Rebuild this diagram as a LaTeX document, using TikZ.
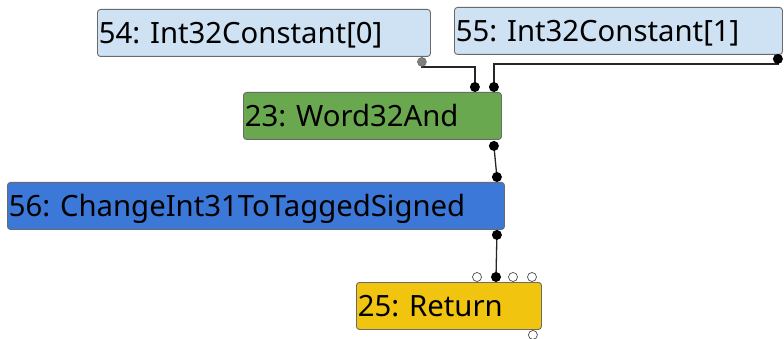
\documentclass[tikz,border=0pt]{standalone}
\usepackage{fontspec}
\setmainfont{Noto Sans}
\usetikzlibrary{positioning}
\definecolor{inBlue}{HTML}{CFE2F3}
\definecolor{machGreen}{HTML}{6AA84F}
\definecolor{simpBlue}{HTML}{3C78D8}
\definecolor{ctrlYel}{HTML}{F1C40F}
\definecolor{rimGray}{HTML}{6A6A6A}
\definecolor{portGray}{HTML}{7F7F7F}
\frenchspacing

\begin{document}
\begin{tikzpicture}[
  x=1pt, y=-1pt,
  opbox/.style={draw=rimGray, line width=0.9pt, rounded corners=3pt, anchor=north west,
    minimum width=#1pt, text width=#1pt-3pt, minimum height=47pt, inner ysep=0pt, inner xsep=1.5pt,
    text height=22pt, text depth=0pt, align=left, font=\fontsize{29.3}{34}\selectfont},
  wire/.style={draw=black!85, line width=1.3pt},
  dot/.style={circle, fill=black, inner sep=0pt, minimum size=10pt},
  greydot/.style={circle, fill=portGray, draw=black!60, line width=0.5pt, inner sep=0pt, minimum size=9pt},
  hollow/.style={circle, draw=black!70, fill=white, line width=0.7pt, inner sep=0pt, minimum size=9pt},
]
\useasboundingbox[fill=white] (0,0) rectangle (784,339);

% =========================== NODES ===========================
\node[opbox=333, fill=inBlue]    (n54) at (97,9)   {54: Int32Constant[0]};
\node[opbox=328, fill=inBlue]    (n55) at (454,7)  {55: Int32Constant[1]};
\node[opbox=258, fill=machGreen] (n23) at (243,92) {23: Word32And};
\node[opbox=497, fill=simpBlue]  (n56) at (7,182)  {56: ChangeInt31ToTaggedSigned};
\node[opbox=185, fill=ctrlYel]   (n25) at (356,282){25: Return};

% =========================== PORTS ===========================
\coordinate (o54) at ([xshift=-9pt,yshift=-5pt]n54.south east);
\coordinate (o55) at ([xshift=-5pt,yshift=-4pt]n55.south east);
\coordinate (i23a) at ([xshift=-27pt,yshift=5pt]n23.north east);
\coordinate (i23b) at ([xshift=-8pt,yshift=5pt]n23.north east);
\coordinate (o23) at ([xshift=-8pt,yshift=-6pt]n23.south east);
\coordinate (i56) at ([xshift=-8pt,yshift=5pt]n56.north east);
\coordinate (o56) at ([xshift=-8pt,yshift=-5pt]n56.south east);
\coordinate (i25a) at ([xshift=121pt,yshift=5pt]n25.north west);
\coordinate (i25b) at ([xshift=140pt,yshift=5pt]n25.north west);
\coordinate (i25c) at ([xshift=157pt,yshift=5pt]n25.north west);
\coordinate (i25d) at ([xshift=176pt,yshift=5pt]n25.north west);
\coordinate (o25) at ([xshift=-9pt,yshift=-5pt]n25.south east);

% =========================== EDGES ===========================
\draw[wire] (o54) -- ++(0,5) -| (i23a);
\draw[wire] (o55) -- ++(0,5) -| (i23b);
\draw[wire] (o23) -- (i56);
\draw[wire] (o56) -- (i25b);

% port markers
\node[greydot] at (o54) {};
\node[dot] at (o55) {};
\node[dot] at (i23a) {};
\node[dot] at (i23b) {};
\node[dot] at (o23) {};
\node[dot] at (i56) {};
\node[dot] at (o56) {};
\node[hollow] at (i25a) {};
\node[dot] at (i25b) {};
\node[hollow] at (i25c) {};
\node[hollow] at (i25d) {};
\node[hollow] at (o25) {};

\end{tikzpicture}
\end{document}
